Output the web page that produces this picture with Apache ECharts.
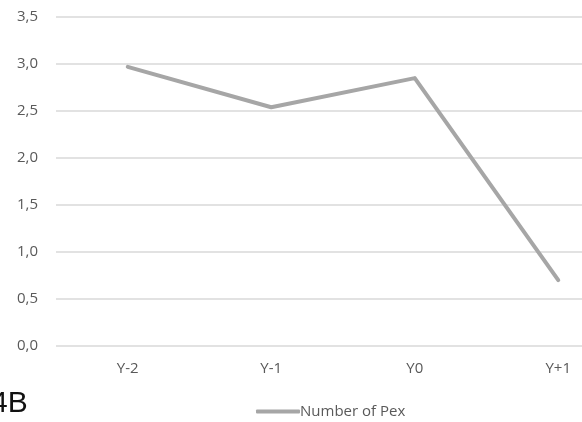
<!DOCTYPE html>
<html>
<head>
<meta charset="utf-8">
<script src="https://cdn.jsdelivr.net/npm/echarts@6/dist/echarts.min.js"></script>
<style>
  html, body { margin: 0; padding: 0; background: #ffffff; overflow: hidden; }
  /* the plot area runs on past the right edge of the visible frame */
  #frame { width: 582px; height: 422px; overflow: hidden; position: relative; }
  #chart { width: 640px; height: 422px; position: absolute; left: 0; top: 0; }
</style>
</head>
<body>
<div id="frame"><div id="chart"></div></div>
<script>
// Years relative to Y0 and the average number of Pex per year
const categories = ['Y-2', 'Y-1', 'Y0', 'Y+1'];
const pexValues = [2.97, 2.54, 2.85, 0.70];
const yTicks = [0, 0.5, 1, 1.5, 2, 2.5, 3, 3.5];

const chart = echarts.init(document.getElementById('chart'), null, { renderer: 'canvas' });
const textColor = '#595959';
const font = '"Open Sans", "Liberation Sans", sans-serif';

chart.setOption({
  backgroundColor: '#ffffff',
  animation: false,
  grid: { left: 56, width: 574, top: 17, height: 329, containLabel: false, outerBoundsMode: 'none' },
  graphic: [{
    type: 'text',
    left: -9,
    top: 389,
    style: { text: '4B', font: '30px "Liberation Sans", Arial, sans-serif', fill: '#111111' }
  }],
  legend: {
    left: 251,
    top: 399,
    data: ['Number of Pex'],
    icon: 'roundRect',
    itemWidth: 44,
    itemHeight: 4,
    textStyle: { color: textColor, fontSize: 15, fontFamily: font, padding: [0, 0, 0, -5] }
  },
  xAxis: {
    type: 'category',
    data: categories,
    boundaryGap: true,
    axisLine: { show: false },
    axisTick: { show: false },
    axisLabel: { color: textColor, fontSize: 15, fontFamily: font, margin: 15 }
  },
  yAxis: {
    type: 'value',
    min: yTicks[0],
    max: yTicks[yTicks.length - 1],
    interval: 0.5,
    axisLine: { show: false },
    axisTick: { show: false },
    splitLine: { lineStyle: { color: '#d9d9d9', width: 1.5 } },
    axisLabel: {
      color: textColor, fontSize: 15, fontFamily: font, margin: 18,
      formatter: v => v.toFixed(1).replace('.', ',')
    }
  },
  series: [{
    name: 'Number of Pex',
    type: 'line',
    data: pexValues,
    symbol: 'none',
    lineStyle: { color: '#a6a6a6', width: 4, cap: 'round', join: 'round' },
    itemStyle: { color: '#a6a6a6' }
  }]
});
</script>
</body>
</html>
